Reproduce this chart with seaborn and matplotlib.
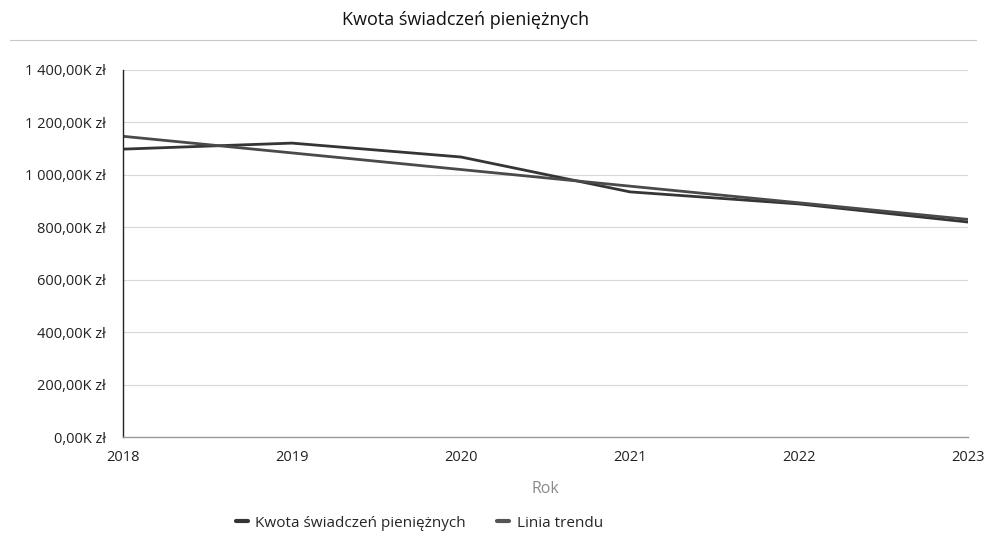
import numpy as np
import pandas as pd
import seaborn as sns
from matplotlib import pyplot as plt
from matplotlib.lines import Line2D
import matplotlib.ticker as plticker

years = [2018, 2019, 2020, 2021, 2022, 2023]
kwota = [1098, 1121, 1068, 935, 889, 820]  # tys. zł

# linia trendu liniowego z danych
coef = np.polyfit(years, kwota, 1)
trend = list(np.polyval(coef, years))

series_names = ["Kwota świadczeń pieniężnych", "Linia trendu"]

df = pd.DataFrame({
    "Rok": years * 2,
    "wartosc": kwota + trend,
    "seria": [series_names[0]] * len(years) + [series_names[1]] * len(years),
})


def fmt_zl(v, pos):
    s = f"{v:,.2f}".replace(",", " ").replace(".", ",")
    return f"{s}K zł"


if __name__ == "__main__":
    sns.set_theme(style="white")
    plt.rcParams["font.family"] = ["Open Sans", "DejaVu Sans"]

    fig = plt.figure(figsize=(9.86, 5.34), dpi=100)
    ax = fig.add_axes([0.1247, 0.1816, 0.857, 0.6874])

    sns.lineplot(data=df, x="Rok", y="wartosc", hue="seria", ax=ax,
                 palette=["#353535", "#4a4a4a"], linewidth=2.0, legend=False)

    ax.set_xlim(2018, 2023)
    ax.set_ylim(0, 1400)
    ax.yaxis.set_major_locator(plticker.MultipleLocator(200))
    ax.yaxis.set_major_formatter(plticker.FuncFormatter(fmt_zl))
    ax.set_xticks(years)
    ax.grid(axis="y", color="#d8d8d8", linewidth=0.8)
    ax.tick_params(axis="both", length=0, labelsize=10.5, colors="#222222")
    ax.tick_params(axis="x", pad=9)
    ax.tick_params(axis="y", pad=12)

    for side in ["top", "right"]:
        ax.spines[side].set_visible(False)
    ax.spines["left"].set_color("#222222")
    ax.spines["left"].set_linewidth(1.0)
    ax.spines["bottom"].set_color("#9a9a9a")
    ax.spines["bottom"].set_linewidth(1.0)

    ax.set_xlabel("Rok", color="#8a8a8a", fontsize=11.5, labelpad=12)
    ax.set_ylabel("")

    fig.text(0.472, 0.962, "Kwota świadczeń pieniężnych", ha="center", va="center",
             fontsize=13, color="#111111")
    fig.add_artist(Line2D([0.01, 0.99], [0.925, 0.925], transform=fig.transFigure,
                          color="#c8c8c8", linewidth=0.8))

    handles = [Line2D([], [], color="#353535", linewidth=3),
               Line2D([], [], color="#555555", linewidth=3)]
    fig.legend(handles, series_names, loc="center left", bbox_to_anchor=(0.225, 0.02),
               ncol=2, frameon=False, fontsize=11, handlelength=0.8,
               columnspacing=2.0, handletextpad=0.5)

    fig.savefig("out.png", dpi=100)
